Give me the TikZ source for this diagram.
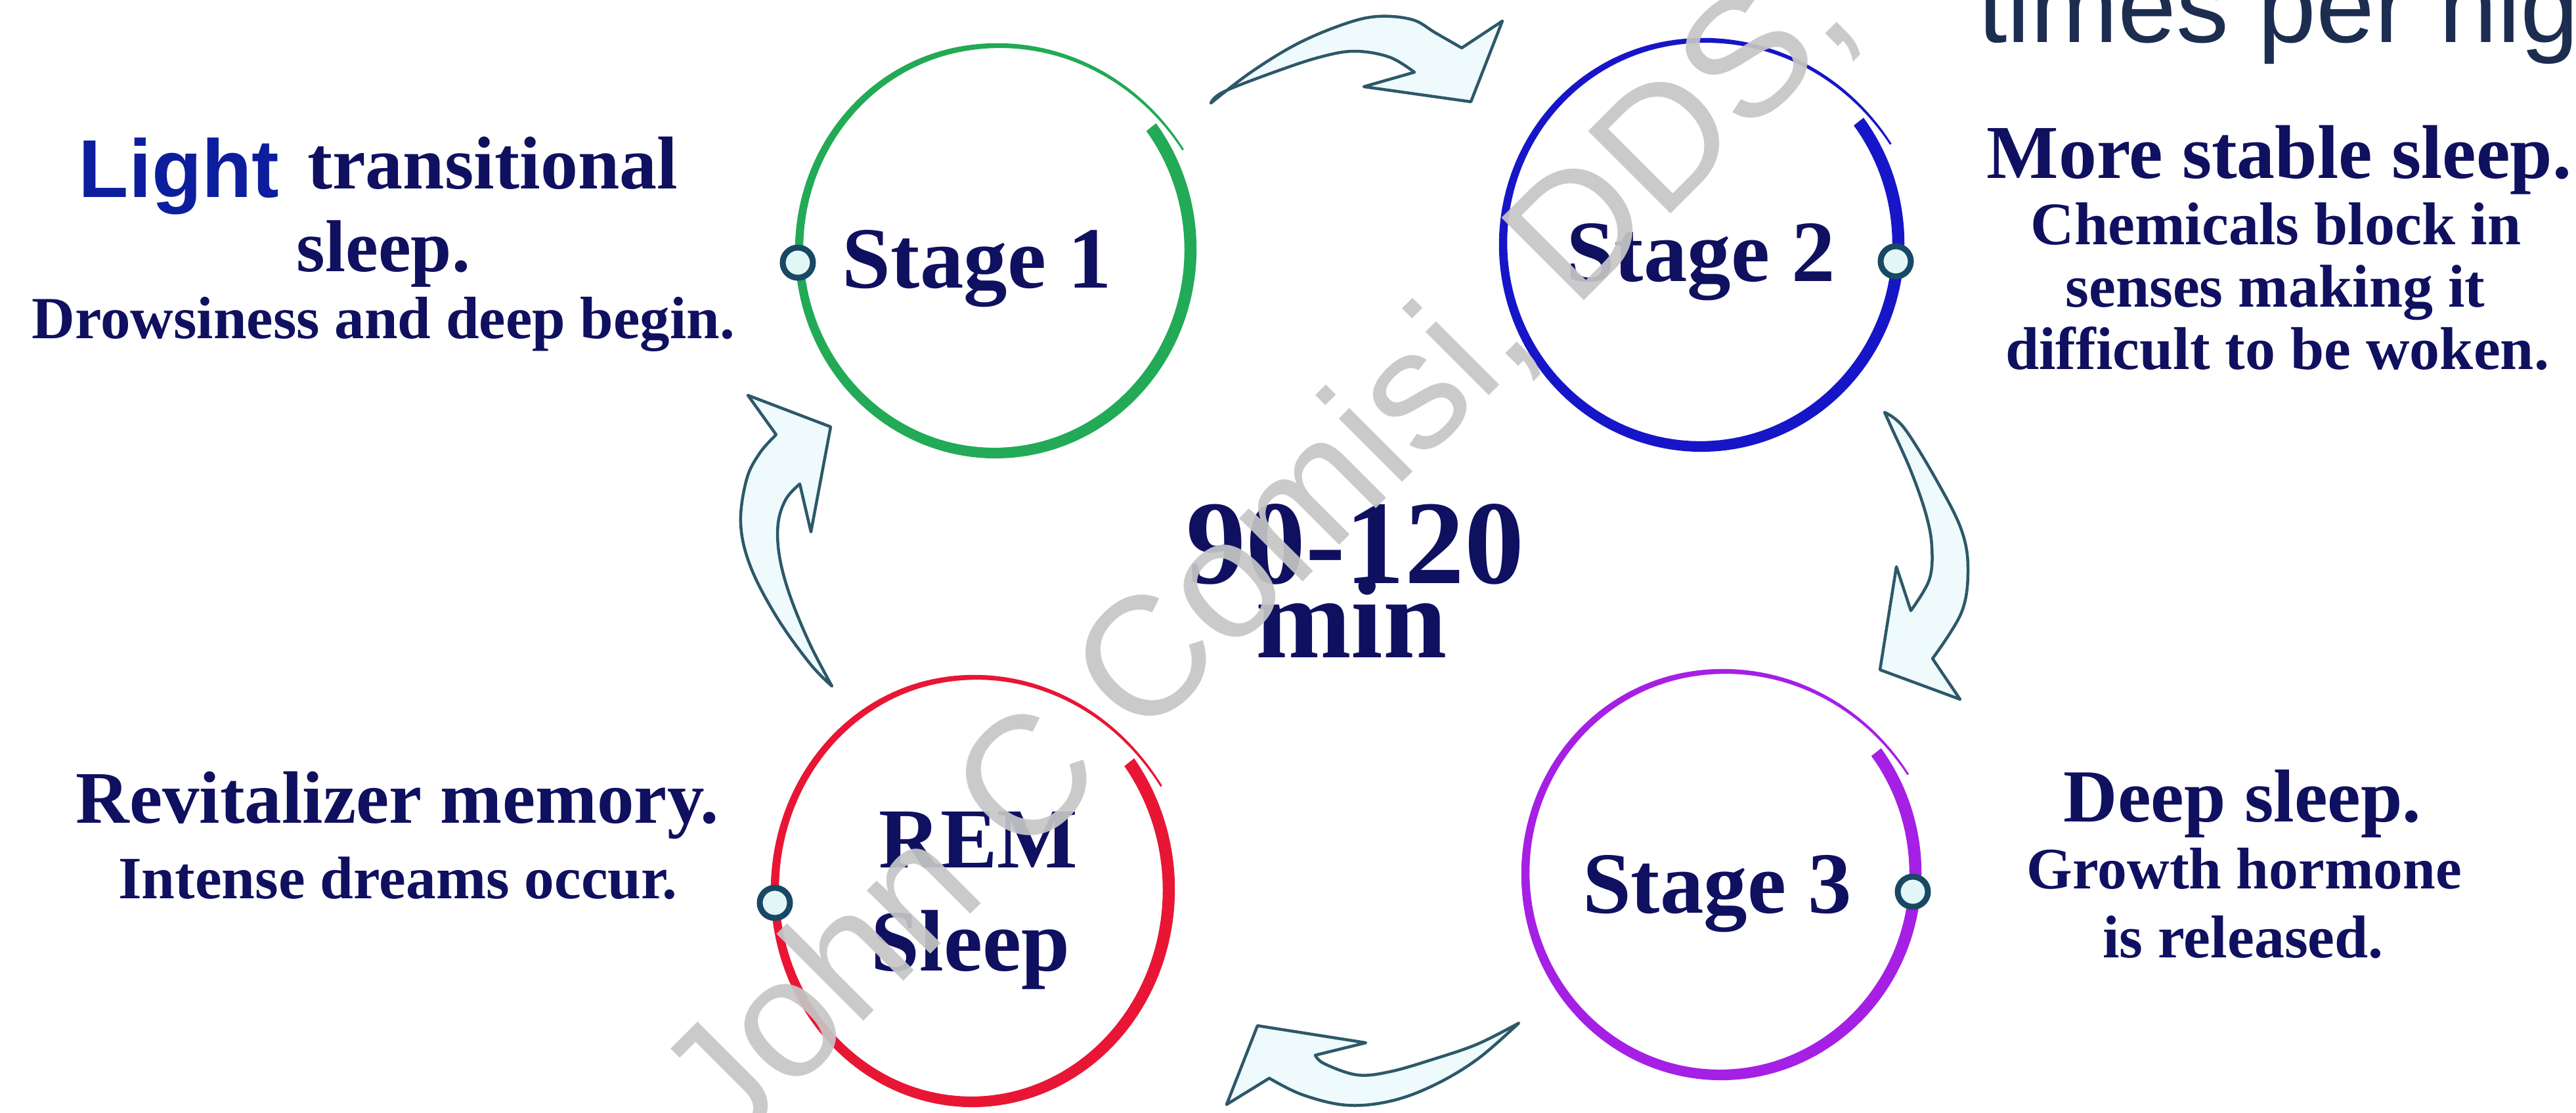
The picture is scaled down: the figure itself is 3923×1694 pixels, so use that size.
\documentclass[tikz,border=0pt]{standalone}
\usepackage{fontspec}
\setmainfont{Liberation Serif}
\newfontfamily\sansfam{Liberation Sans}
\definecolor{navytext}{RGB}{16,16,96}
\definecolor{lightblue}{RGB}{12,30,158}
\definecolor{titleslate}{RGB}{28,45,80}
\definecolor{ringgreen}{RGB}{34,170,86}
\definecolor{ringblue}{RGB}{22,22,200}
\definecolor{ringpurple}{RGB}{165,32,228}
\definecolor{ringred}{RGB}{232,22,52}
\definecolor{arrowline}{RGB}{45,88,105}
\definecolor{arrowfill}{RGB}{238,250,252}
\definecolor{dotline}{RGB}{24,72,100}
\definecolor{dotfill}{RGB}{226,246,248}
\definecolor{wmgray}{RGB}{198,198,198}

% #1 cx, #2 cy, #3 rx, #4 ry, #5 colour
\newcommand\stagering[5]{%
  \fill[#5] plot[domain=0:1,samples=181,variable=\t]
    ({#1+(#3+dd(\t)+wd(\t)/2)*cos(37-370*\t)},{#2-(#4+dd(\t)+wd(\t)/2)*sin(37-370*\t)})
    -- plot[domain=1:0,samples=181,variable=\t]
    ({#1+(#3+dd(\t)-wd(\t)/2)*cos(37-370*\t)},{#2-(#4+dd(\t)-wd(\t)/2)*sin(37-370*\t)})
    -- cycle;}

\begin{document}
\begin{tikzpicture}[x=1pt,y=-1pt,
  declare function={wd(\t)=19-4*\t-12*\t*\t; dd(\t)=600*max(0,\t-0.8)*max(0,\t-0.8);},
  tx/.style={anchor=base, inner sep=0pt, text=navytext},
  blockarrow/.style={draw=arrowline, fill=arrowfill, line width=4.5pt, line join=round},
  stagedot/.style={circle, draw=dotline, fill=dotfill, line width=9pt, minimum size=46pt, inner sep=0pt},
  stagelbl/.style={tx, font=\bfseries\fontsize{133}{140}\selectfont},
]
\useasboundingbox (0,0) rectangle (3923,1694);
\clip (0,0) rectangle (3923,1694);
\fill[white] (0,0) rectangle (3923,1694);

% ring centres
\coordinate (c1) at (1515,380);
\coordinate (c2) at (2590,371);
\coordinate (c3) at (2620,1330);
\coordinate (c4) at (1480,1355);

% rings
\stagering{1515}{380}{298}{310}{ringgreen}
\stagering{2590}{371}{301}{309}{ringblue}
\stagering{2620}{1330}{297}{307}{ringpurple}
\stagering{1480}{1355}{300}{323}{ringred}

% block arrows
% Stage 1 -> Stage 2 (top)
\path[blockarrow] plot[smooth,tension=0.6] coordinates {(1844,157) (1905,110) (1975,67) (2046,37) (2098,25) (2151,30) (2186,50) (2226,73)}
  -- (2288,32) -- (2240,155) -- (2077,132) -- (2154,110)
  -- plot[smooth,tension=0.6] coordinates {(2154,110) (2116,87) (2063,78) (2010,87) (1940,110) (1863,140) (1844,157)} -- cycle;
% Stage 2 -> Stage 3 (right)
\path[blockarrow] plot[smooth,tension=0.6] coordinates {(2870,628) (2900,652) (2950,733) (2987,807) (2997,867) (2987,933) (2943,1003)}
  -- (2985,1065) -- (2863,1020) -- (2888,863) -- (2910,930)
  -- plot[smooth,tension=0.6] coordinates {(2910,930) (2938,883) (2942,833) (2933,783) (2910,717) (2880,650) (2870,628)} -- cycle;
% Stage 3 -> REM (bottom)
\path[blockarrow] plot[smooth,tension=0.6] coordinates {(2313,1558) (2250,1613) (2183,1653) (2117,1677) (2050,1683) (1983,1667) (1933,1642)}
  -- (1868,1682) -- (1915,1562) -- (2080,1588) -- (2003,1607)
  -- plot[smooth,tension=0.6] coordinates {(2003,1607) (2017,1620) (2067,1637) (2117,1632) (2183,1613) (2250,1590) (2313,1558)} -- cycle;
% REM -> Stage 1 (left)
\path[blockarrow] plot[smooth,tension=0.6] coordinates {(1267,1045) (1233,1010) (1183,940) (1143,863) (1128,797) (1137,730) (1157,690) (1182,662)}
  -- (1139,602) -- (1265,650) -- (1235,810) -- (1218,737)
  -- plot[smooth,tension=0.6] coordinates {(1218,737) (1197,760) (1185,797) (1187,847) (1203,907) (1233,980) (1267,1045)} -- cycle;

% small circles on the rings
\node[stagedot] (d1) at (1215,400) {};
\node[stagedot] (d2) at (2887,398) {};
\node[stagedot] (d3) at (2913,1358) {};
\node[stagedot] (d4) at (1180,1375) {};

% stage labels
\node[stagelbl] (s1) at (1488,438) {Stage 1};
\node[stagelbl] (s2) at (2590,428) {Stage 2};
\node[stagelbl] (s3) at (2615,1390) {Stage 3};
\node[tx, font=\bfseries\fontsize{130}{140}\selectfont] (rem1) at (1490,1321) {REM};
\node[tx, font=\bfseries\fontsize{133}{140}\selectfont] (rem2) at (1478,1478) {Sleep};

% centre
\node[tx, font=\bfseries\fontsize{182}{190}\selectfont] (cyc1) at (2064,888) {90-120};
\node[tx, font=\bfseries\fontsize{175}{180}\selectfont] (cyc2) at (2058,1001) {min};

% Stage 1 description
\node[tx] (a1) at (576,287) {\raisebox{-13pt}{\sansfam\bfseries\fontsize{125}{140}\selectfont\color{lightblue}Light}\hspace{43pt}{\bfseries\fontsize{114}{130}\selectfont transitional}};
\node[tx, font=\bfseries\fontsize{112}{120}\selectfont] (a2) at (584,413) {sleep.};
\node[tx, font=\bfseries\fontsize{91}{100}\selectfont] (a3) at (584,515) {Drowsiness and deep begin.};

% Stage 2 description
\node[tx, font=\bfseries\fontsize{116}{120}\selectfont] (b1) at (3471,271) {More stable sleep.};
\node[tx, font=\bfseries\fontsize{92}{100}\selectfont] (b2) at (3466,372) {Chemicals block in};
\node[tx, font=\bfseries\fontsize{92}{100}\selectfont] (b3) at (3465,467) {senses making it};
\node[tx, font=\bfseries\fontsize{92}{100}\selectfont] (b4) at (3468,562) {difficult to be woken.};

% REM description
\node[tx, font=\bfseries\fontsize{113}{120}\selectfont] (r1) at (605,1253) {Revitalizer memory.};
\node[tx, font=\bfseries\fontsize{91.5}{100}\selectfont] (r2) at (606,1368) {Intense dreams occur.};

% Stage 3 description
\node[tx, font=\bfseries\fontsize{114}{120}\selectfont] (e1) at (3415,1251) {Deep sleep.};
\node[tx, font=\bfseries\fontsize{89.5}{100}\selectfont] (e2) at (3418,1353) {Growth hormone};
\node[tx, font=\bfseries\fontsize{92}{100}\selectfont] (e3) at (3416,1458) {is released.};

% cut-off heading at top right
\node[anchor=base west, inner sep=0pt, text=titleslate, font=\sansfam\fontsize{160}{160}\selectfont] (ttl) at (3012,65) {times per nig};

% watermark
\node[rotate=45, anchor=base west, inner sep=0pt, text=wmgray, text opacity=0.92, font=\sansfam\fontsize{258}{258}\selectfont] (wm) at (1110,1760) {John C Comisi, DDS,};
\end{tikzpicture}
\end{document}
